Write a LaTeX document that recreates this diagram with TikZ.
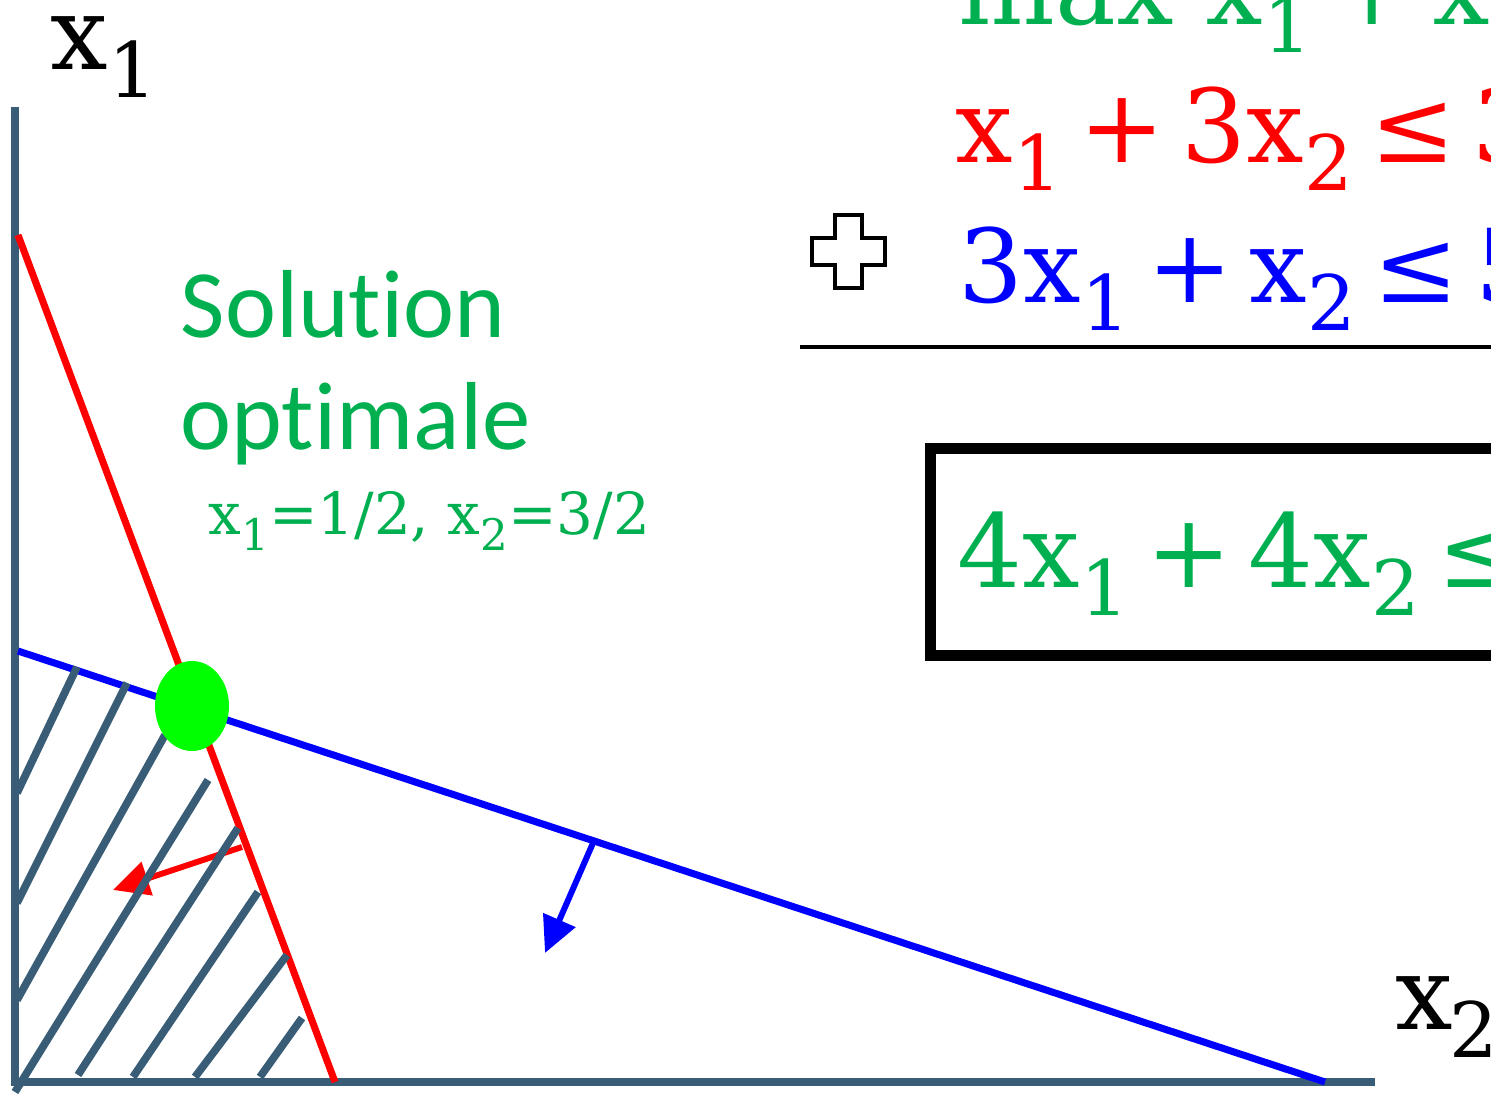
\documentclass[tikz,border=0pt]{standalone}
\usepackage{fontspec}
\usepackage{graphicx}
\setmainfont{DejaVu Serif}
\newfontfamily\calibri[Ligatures=NoCommon]{Carlito}
\usetikzlibrary{arrows.meta, shapes.geometric}
\definecolor{cgreen}{HTML}{00B050}
\definecolor{cslate}{HTML}{395D76}
\definecolor{cred}{HTML}{FF0000}
\definecolor{cblue}{HTML}{0000FF}
\definecolor{clime}{HTML}{00FF00}
\newcommand{\xv}[1]{x\raisebox{-0.27em}{\scalebox{0.75}{#1}}}
\newcommand{\op}[1]{\hspace{0.17em}#1\hspace{0.17em}}
\tikzset{
  every picture/.style={x=0.1mm, y=-0.1mm},
  axis/.style={draw=cslate, line width=2.3pt},
  hatch/.style={draw=cslate, line width=2.2pt},
  constr/.style={draw=#1, line width=2pt},
  dirarrow/.style={draw=#1, line width=1.7pt, -{Triangle[length=3.6mm, width=3.4mm]}},
  eq/.style={anchor=base west, inner sep=0pt, text=#1, font=\fontsize{29}{34}\selectfont},
  eq/.default=black,
  note/.style={anchor=base west, inner sep=0pt, text=cgreen, font=\calibri\fontsize{27.5}{32}\selectfont},
}

\begin{document}
\begin{tikzpicture}
  \useasboundingbox (0,0) rectangle (1491,1094);
  \clip (0,0) rectangle (1491,1094);
  % axes
  \coordinate (orig) at (15,1082);
  \coordinate (ytop) at (15,107);
  \coordinate (xend) at (1375,1082);
  \draw[axis] (ytop) -- (orig) -- (xend);
  \node[eq] (xone) at (50,70) {\xv{1}};
  \node[eq] (xtwo) at (1395,1030) {x\hspace{-0.04em}\raisebox{-0.27em}{\scalebox{0.75}{2}}};
  % constraints
  \coordinate (ra) at (18,235);
  \coordinate (rb) at (335,1082);
  \coordinate (ba) at (18,651);
  \coordinate (bb) at (1325,1082);
  \draw[constr=cred] (ra) -- (rb);
  \draw[constr=cblue] (ba) -- (bb);
  \coordinate (rfoot) at (242,847);
  \coordinate (rtip) at (113,890);
  \coordinate (bfoot) at (593,843);
  \coordinate (btip) at (545,953);
  \draw[dirarrow=cred] (rfoot) -- (rtip);
  \draw[dirarrow=cblue] (bfoot) -- (btip);
  % feasible region
  \foreach \xa/\ya/\xb/\yb in {77/667/17/793, 127/683/17/903, 165/735/17/1000,
      208/780/15/1092, 238/828/78/1075, 258/892/133/1077, 287/955/195/1077, 302/1018/260/1077}
    \draw[hatch] (\xa,\ya) -- (\xb,\yb);
  \node[fill=clime, ellipse, minimum width=7.4mm, minimum height=9mm, inner sep=0pt] (opt) at (192,706) {};
  \node[note] (sol) at (180,338) {Solution};
  \node[note] (optl) at (180,450) {optimale};
  \node[eq=cgreen, font=\fontsize{16.5}{20}\selectfont] (val) at (208,535) {\xv{1}=1/2, \xv{2}=3/2};
  % the program
  \node[eq=cgreen] (obj) at (958,25) {max \xv{1}\op{+}\xv{2}};
  \node[eq=cred] (cone) at (955,163) {\xv{1}\op{+}3\xv{2}\op{≤}3};
  \node[eq=cblue] (ctwo) at (958,303) {3\xv{1}\op{+}\xv{2}\op{≤}5};
  \draw[line width=1.1pt, fill=white] (835,215) -- ++(27,0) -- ++(0,23) -- ++(23,0) -- ++(0,27)
    -- ++(-23,0) -- ++(0,23) -- ++(-27,0) -- ++(0,-23) -- ++(-23,0) -- ++(0,-27) -- ++(23,0) -- cycle;
  \draw[line width=1.1pt] (800,347) -- (1491,347);
  \node[draw, line width=3.1pt, anchor=north west, minimum width=70mm, minimum height=20.7mm] (sum) at (925,443) {};
  \node[eq=cgreen] (csum) at (957,588) {4\xv{1}\op{+}4\xv{2}\op{≤}8};
\end{tikzpicture}
\end{document}
